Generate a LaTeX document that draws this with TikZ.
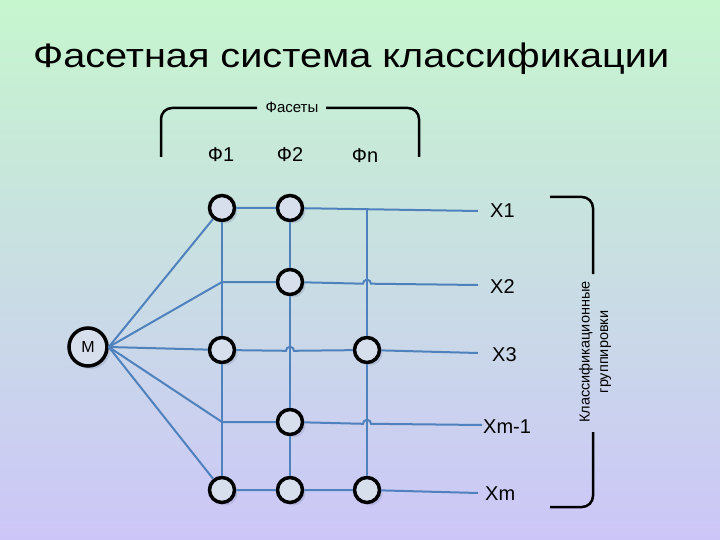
\documentclass[tikz,border=0pt]{standalone}
\usepackage{fontspec}
\setmainfont{Liberation Sans}
\usetikzlibrary{shadows}
\definecolor{bgtop}{RGB}{198,246,206}
\definecolor{bgbot}{RGB}{204,198,248}
\definecolor{lnblue}{RGB}{79,129,189}
\definecolor{cfill}{RGB}{216,223,236}
\definecolor{shcol}{RGB}{120,130,170}
\begin{document}
\begin{tikzpicture}[x=1pt,y=-1pt,
  facet/.style={circle, draw=black, line width=3.5pt, fill=cfill, minimum size=25pt, inner sep=0pt,
    drop shadow={opacity=0.25, shadow xshift=3pt, shadow yshift=-3pt, fill=shcol}},
  link/.style={draw=lnblue, line width=2pt},
  lbl/.style={font=\fontsize{20}{22}\selectfont, inner sep=0pt},
  brk/.style={draw=black, line width=2.5pt, rounded corners=11pt}]
\useasboundingbox (0,0) rectangle (720,540);
\shade[top color=bgtop, bottom color=bgbot] (0,0) rectangle (720,540);

% title
\node[anchor=base west, font=\fontsize{34}{36}\selectfont, inner sep=0pt] (title) at (33,68) {\scalebox{1.166}[1]{Фасетная система классификации}};

% facet brace
\draw[brk] (161,157) -- (161,108) -- (257,108);
\draw[brk] (326,108) -- (419,108) -- (419,157);
\node[font=\fontsize{15}{16}\selectfont, inner sep=0pt] (fac) at (292,107) {Фасеты};
\node[lbl, anchor=base] (f1) at (221,162) {Ф1};
\node[lbl, anchor=base] (f2) at (290,162) {Ф2};
\node[lbl, anchor=base] (fn) at (365,163) {Фn};

% circles
\node[facet] (a11) at (222,208) {};
\node[facet] (a12) at (290,208) {};
\node[facet] (a22) at (290,282) {};
\node[facet] (a31) at (222,350) {};
\node[facet] (a33) at (367,350) {};
\node[facet] (a42) at (290,422) {};
\node[facet] (a51) at (222,490) {};
\node[facet] (a52) at (290,490) {};
\node[facet] (a53) at (367,490) {};
\node[facet, minimum size=38pt] (M) at (88,347) {\fontsize{16}{18}\selectfont M};

% junctions and ends
\coordinate (j21) at (222,282);
\coordinate (j41) at (222,422);
\coordinate (c13) at (367,209.6);
\coordinate (e1) at (478,211);
\coordinate (e2) at (478,285);
\coordinate (e3) at (478,353);
\coordinate (e4) at (482,425);
\coordinate (e5) at (478,493);

% from M
\draw[link] (M.east) -- (a11);
\draw[link] (M.east) -- (j21);
\draw[link] (M.east) -- (a31);
\draw[link] (M.east) -- (j41);
\draw[link] (M.east) -- (a51);

% columns
\draw[link] (a11) -- (j21) -- (a31) -- (j41) -- (a51);
\draw[link] (a12) -- (a22) -- (a42) -- (a52);
\draw[link] (c13) -- (a33) -- (a53);

% rows
\draw[link] (a11) -- (a12) -- (e1);
\draw[link] (j21) -- (a22) -- (363,283.7) arc[start angle=180, end angle=360, radius=4] -- (e2);
\draw[link] (a31) -- (286,350.8) arc[start angle=180, end angle=360, radius=4] -- (a33) -- (e3);
\draw[link] (j41) -- (a42) -- (363,423.8) arc[start angle=180, end angle=360, radius=4] -- (e4);
\draw[link] (a51) -- (a52) -- (a53) -- (e5);

% row labels
\node[lbl, anchor=base west] (x1) at (490,218) {X1};
\node[lbl, anchor=base west] (x2) at (490,293) {X2};
\node[lbl, anchor=base west] (x3) at (492,361) {X3};
\node[lbl, anchor=base west] (xm1) at (483,433) {Xm-1};
\node[lbl, anchor=base west] (xm) at (485,500) {Xm};

% grouping brace
\draw[brk] (550,197) -- (593,197) -- (593,274);
\draw[brk] (593,432) -- (593,507) -- (550,507);
\node[rotate=90, align=center, font=\fontsize{14.5}{18.5}\selectfont, inner sep=0pt] (grp) at (595,352) {Классификационные\\группировки};
\end{tikzpicture}
\end{document}
